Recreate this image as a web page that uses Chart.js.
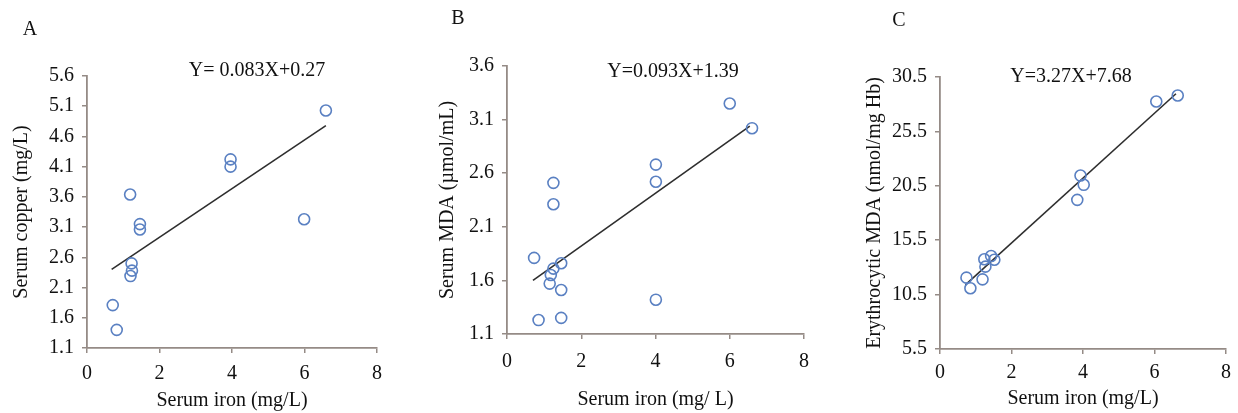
<!DOCTYPE html>
<html>
<head>
<meta charset="utf-8">
<script src="https://cdn.jsdelivr.net/npm/chart.js@4.4.1/dist/chart.umd.min.js"></script>
<style>
  html, body { margin: 0; padding: 0; background: #fff; }
  #wrap { position: relative; width: 1238px; height: 413px; }
  canvas { position: absolute; top: 0; }
</style>
</head>
<body>
<div id="wrap">
  <canvas id="chartA" width="415" height="413" style="left:0px"></canvas>
  <canvas id="chartB" width="415" height="413" style="left:415px"></canvas>
  <canvas id="chartC" width="408" height="413" style="left:830px"></canvas>
</div>
<script>
// Panel A: serum iron vs serum copper
const ironA = [0.71, 0.82, 1.19, 1.23, 1.24, 1.20, 1.46, 1.46, 3.96, 3.96, 5.99, 6.59];
const copperA = [1.81, 1.40, 3.64, 2.50, 2.38, 2.29, 3.15, 3.06, 4.22, 4.10, 3.23, 5.03];
const fitXA = [0.68, 6.59];
const fitYA = [2.40, 4.78];
const yTicksA = [1.1, 5.6, 0.5];

// Panel B: serum iron vs serum MDA
const ironB = [0.73, 0.85, 1.25, 1.25, 1.18, 1.15, 1.25, 1.46, 1.46, 1.46, 4.01, 4.01, 4.01, 6.00, 6.60];
const mdaB = [1.81, 1.23, 2.51, 2.31, 1.65, 1.57, 1.71, 1.76, 1.51, 1.25, 2.68, 2.52, 1.42, 3.25, 3.02];
const fitXB = [0.70, 6.54];
const fitYB = [1.60, 3.04];
const yTicksB = [1.1, 3.6, 0.5];

// Panel C: serum iron vs erythrocytic MDA
const ironC = [0.74, 0.85, 1.19, 1.24, 1.27, 1.43, 1.52, 3.93, 4.02, 3.84, 6.05, 6.65];
const mdaC = [12.06, 11.08, 11.90, 13.75, 13.07, 14.05, 13.70, 21.44, 20.59, 19.21, 28.25, 28.80];
const fitXC = [0.71, 6.60];
const fitYC = [11.39, 28.96];
const yTicksC = [5.5, 30.5, 5];

const xTicks = [0, 8, 2];
const letters = ['A', 'B', 'C'];
const equations = ['Y= 0.083X+0.27', 'Y=0.093X+1.39', 'Y=3.27X+7.68'];
const yTitles = ['Serum copper (mg/L)', 'Serum MDA (\u00b5mol/mL)', 'Erythrocytic MDA (nmol/mg Hb)'];
const xTitles = ['Serum iron (mg/L)', 'Serum iron (mg/ L)', 'Serum iron (mg/L)'];

const FONT = 'Liberation Serif, "Times New Roman", serif';
const AXIS_COLOR = '#958b86';
const POINT_COLOR = '#5a80c2';

function toPoints(xs, ys) {
  return xs.map((x, i) => ({ x: x, y: ys[i] }));
}

// draws panel letter and regression equation
const labelsPlugin = {
  id: 'panelLabels',
  afterDraw(chart, args, opts) {
    const ctx = chart.ctx;
    ctx.save();
    ctx.fillStyle = '#111';
    ctx.font = '20px ' + FONT;
    ctx.textAlign = 'center';
    ctx.textBaseline = 'middle';
    ctx.fillText(opts.letter, opts.letterX, opts.letterY);
    ctx.fillText(opts.equation, opts.eqX, opts.eqY);
    ctx.restore();
  }
};

function makeChart(id, cfg) {
  const ctx = document.getElementById(id).getContext('2d');
  return new Chart(ctx, {
    type: 'scatter',
    data: {
      datasets: [{
        data: toPoints(cfg.xs, cfg.ys),
        pointStyle: 'circle',
        pointRadius: 5.5,
        pointBorderWidth: 1.6,
        pointBorderColor: POINT_COLOR,
        pointBackgroundColor: 'rgba(255,255,255,0)',
        order: 1
      }, {
        type: 'line',
        data: toPoints(cfg.fitX, cfg.fitY),
        borderColor: '#2e2e2e',
        borderWidth: 1.6,
        pointRadius: 0,
        fill: false,
        order: 2
      }]
    },
    options: {
      responsive: false,
      animation: false,
      events: [],
      layout: { padding: cfg.padding },
      plugins: {
        legend: { display: false },
        tooltip: { enabled: false },
        panelLabels: cfg.labels
      },
      scales: {
        x: {
          type: 'linear',
          min: xTicks[0], max: xTicks[1],
          afterFit: s => { s.height = cfg.xH; },
          border: { color: AXIS_COLOR, width: 1.8 },
          grid: { drawOnChartArea: false, drawTicks: true, tickLength: 5, color: AXIS_COLOR, lineWidth: 1.5 },
          ticks: { stepSize: xTicks[2], color: '#111', font: { family: FONT, size: 20 }, padding: cfg.xPad },
          title: { display: true, text: cfg.xTitle, color: '#111', font: { family: FONT, size: 20 }, padding: 0 }
        },
        y: {
          type: 'linear',
          min: cfg.yTicks[0], max: cfg.yTicks[1],
          afterFit: s => { s.width = cfg.yW; },
          border: { color: AXIS_COLOR, width: 1.8 },
          grid: { drawOnChartArea: false, drawTicks: true, tickLength: 5, color: AXIS_COLOR, lineWidth: 1.5 },
          ticks: {
            stepSize: cfg.yTicks[2], color: '#111', font: { family: FONT, size: 20 }, padding: 8,
            callback: v => v.toFixed(1)
          },
          title: { display: true, text: cfg.yTitle, color: '#111', font: { family: FONT, size: 20 }, padding: 0 }
        }
      }
    },
    plugins: [labelsPlugin]
  });
}

makeChart('chartA', {
  xs: ironA, ys: copperA, fitX: fitXA, fitY: fitYA, yTicks: yTicksA,
  xTitle: xTitles[0], yTitle: yTitles[0],
  padding: { left: 10, right: 38, top: 76, bottom: 0 }, yW: 77, xH: 65, xPad: 9,
  labels: { letter: letters[0], letterX: 30, letterY: 30, equation: equations[0], eqX: 257, eqY: 71 }
});

makeChart('chartB', {
  xs: ironB, ys: mdaB, fitX: fitXB, fitY: fitYB, yTicks: yTicksB,
  xTitle: xTitles[1], yTitle: yTitles[1],
  padding: { left: 21, right: 26, top: 66, bottom: 1 }, yW: 71, xH: 78, xPad: 11,
  labels: { letter: letters[1], letterX: 458 - 415, letterY: 19, equation: equations[1], eqX: 673 - 415, eqY: 72 }
});

makeChart('chartC', {
  xs: ironC, ys: mdaC, fitX: fitXC, fitY: fitYC, yTicks: yTicksC,
  xTitle: xTitles[2], yTitle: yTitles[2],
  padding: { left: 33, right: 8, top: 77, bottom: 2 }, yW: 77, xH: 62, xPad: 7,
  labels: { letter: letters[2], letterX: 899 - 830, letterY: 21, equation: equations[2], eqX: 1071 - 830, eqY: 77 }
});
</script>
</body>
</html>
